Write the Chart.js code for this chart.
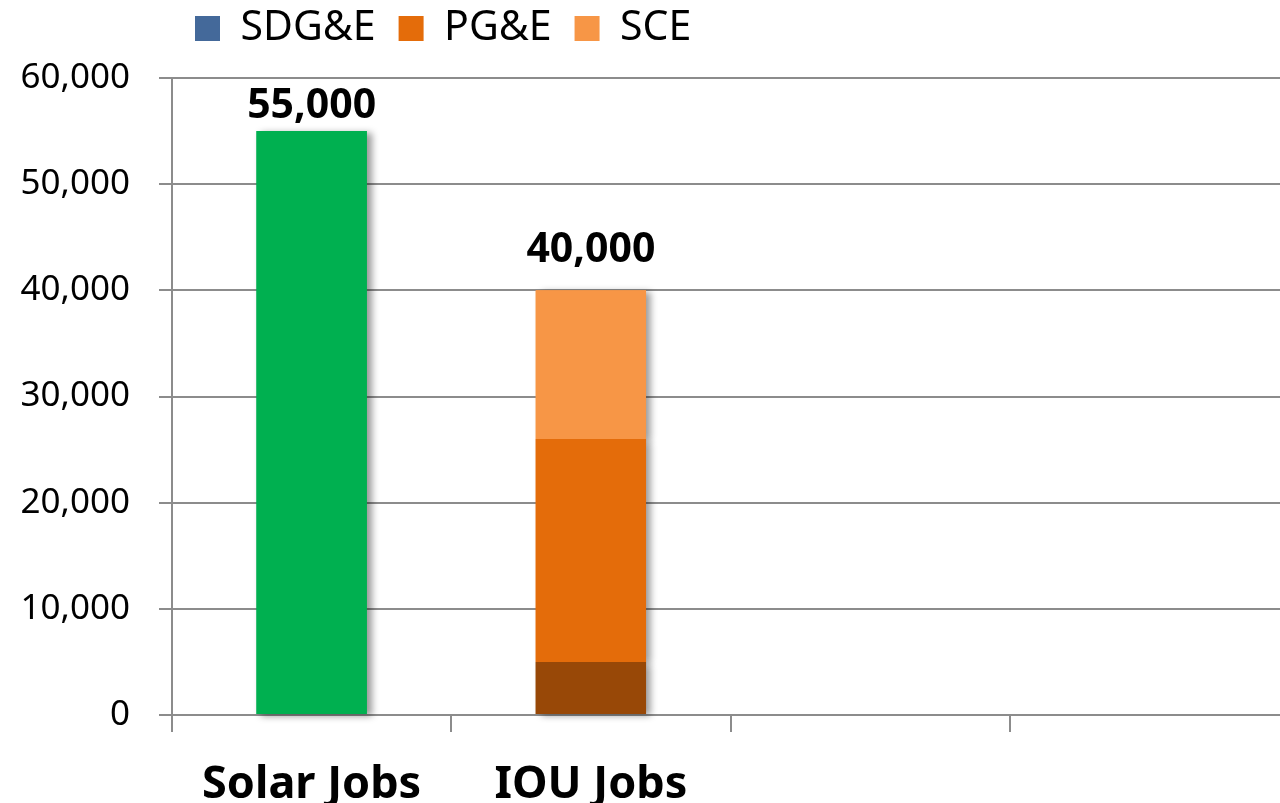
<!DOCTYPE html>
<html>
<head>
<meta charset="utf-8">
<script src="https://cdn.jsdelivr.net/npm/chart.js@4"></script>
<style>
  html, body { margin: 0; padding: 0; background: #fff; overflow: hidden; }
  #wrap { width: 1290px; height: 803px; position: relative; }
</style>
</head>
<body>
<div id="wrap"><canvas id="jobs"></canvas></div>
<script>
// categories and values
var categories = ['Solar Jobs', 'IOU Jobs', '', ''];
var solarJobs = [55000, null, null, null];
var sdgeJobs = [null, 5000, null, null];
var pgeJobs = [null, 21000, null, null];
var sceJobs = [null, 14000, null, null];
var yTicks = [0, 10000, 20000, 30000, 40000, 50000, 60000];

var gridGray = '#8c8c8c';
var font = "'Noto Sans', 'DejaVu Sans', sans-serif";

// soft shadow to the right of the bars, drawn under all segments first
var barShadow = {
    id: 'barShadow',
    beforeDatasetsDraw: function(chart) {
        var ctx = chart.ctx;
        ctx.save();
        ctx.shadowColor = 'rgba(0,0,0,0.4)';
        ctx.shadowBlur = 7;
        ctx.shadowOffsetX = 5;
        ctx.shadowOffsetY = 2;
        chart.data.datasets.forEach(function(ds, i) {
            chart.getDatasetMeta(i).data.forEach(function(bar, j) {
                if (ds.data[j] == null) return;
                var p = bar.getProps(['x', 'y', 'base', 'width'], true);
                ctx.fillStyle = ds.backgroundColor;
                ctx.fillRect(p.x - p.width / 2, p.y, p.width, p.base - p.y);
            });
        });
        ctx.restore();
    }
};

// y axis is squeezed to zero width so the legend can start where it does;
// widen its label area again so the tick labels are not clipped
var yLabelRoom = {
    id: 'yLabelRoom',
    beforeInit: function(chart) {
        var fit = chart.legend.fit;
        chart.legend.fit = function() {
            fit.call(this);
            this.height = 93;
        };
    },
    afterLayout: function(chart) {
        chart.scales.y.left = 0;
    }
};

// total value above each stack
var totals = {
    id: 'totals',
    afterDatasetsDraw: function(chart, args, opts) {
        var ctx = chart.ctx;
        var y = chart.scales.y;
        ctx.save();
        ctx.font = 'bold 41px ' + font;
        ctx.fillStyle = '#000';
        ctx.textAlign = 'center';
        ctx.textBaseline = 'alphabetic';
        categories.forEach(function(c, i) {
            var sum = 0;
            chart.data.datasets.forEach(function(ds) { sum += ds.data[i] || 0; });
            if (!sum) return;
            var x = chart.scales.x.getPixelForValue(i);
            var top = y.getPixelForValue(sum);
            ctx.fillText(sum.toLocaleString('en-US'), x, top - opts.gap[i]);
        });
        ctx.restore();
    }
};

var legendColors = ['#44699A', '#E46C0A', '#F79646'];

new Chart(document.getElementById('jobs'), {
    type: 'bar',
    data: {
        labels: categories,
        datasets: [
            { label: 'Solar Jobs', data: solarJobs, backgroundColor: '#00B050' },
            { label: 'SDG&E', data: sdgeJobs, backgroundColor: '#984807' },
            { label: 'PG&E', data: pgeJobs, backgroundColor: '#E46C0A' },
            { label: 'SCE', data: sceJobs, backgroundColor: '#F79646' }
        ]
    },
    options: {
        responsive: true,
        maintainAspectRatio: false,
        animation: false,
        layout: { padding: { left: 172, right: 1, top: -15, bottom: -36 } },
        datasets: { bar: { categoryPercentage: 1, barPercentage: 0.395 } },
        scales: {
            x: {
                stacked: true,
                grid: { drawOnChartArea: false, color: gridGray, lineWidth: 2, tickLength: 17, offset: true },
                border: { color: gridGray, width: 2 },
                ticks: { color: '#000', padding: 31, maxRotation: 0, font: { family: font, size: 45, weight: 'bold', lineHeight: 1 } }
            },
            y: {
                stacked: true,
                min: 0,
                max: 60000,
                afterFit: function(s) { s.width = 0; },
                afterBuildTicks: function(s) { s.ticks = yTicks.map(function(v) { return { value: v }; }); },
                grid: { color: gridGray, lineWidth: 2, tickLength: 13 },
                border: { color: gridGray, width: 2 },
                ticks: {
                    color: '#000',
                    padding: 29,
                    font: { family: font, size: 35 },
                    callback: function(v) { return v.toLocaleString('en-US'); }
                }
            }
        },
        plugins: {
            legend: {
                position: 'top',
                align: 'start',
                labels: {
                    color: '#000',
                    boxWidth: 25,
                    boxHeight: 25,
                    padding: 23,
                    font: { family: font, size: 41 },
                    generateLabels: function(chart) {
                        return chart.data.datasets.slice(1).map(function(ds, i) {
                            return {
                                text: ds.label,
                                fillStyle: legendColors[i],
                                strokeStyle: legendColors[i],
                                lineWidth: 0,
                                fontColor: '#000',
                                datasetIndex: i + 1
                            };
                        });
                    }
                }
            },
            tooltip: { enabled: false },
            totals: { gap: [13, 28] }
        }
    },
    plugins: [yLabelRoom, barShadow, totals]
});
</script>
</body>
</html>
